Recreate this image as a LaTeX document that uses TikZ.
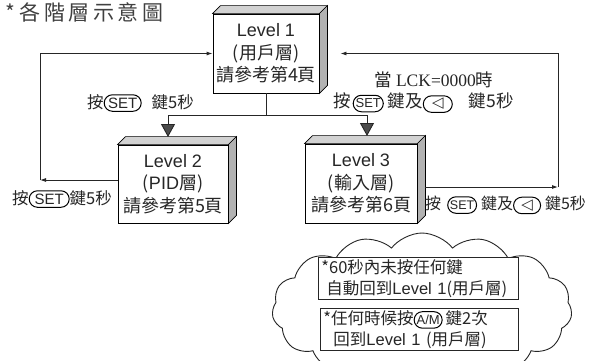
\documentclass[tikz,border=0pt]{standalone}
\usepackage{fontspec}
\setmainfont{Noto Sans CJK TC}
\newfontfamily\lat{Liberation Sans}
\newfontfamily\ser{Liberation Serif}
\newfontfamily\sym{DejaVu Sans}
\usetikzlibrary{shapes.misc,shapes.symbols,arrows.meta,calc}
\tikzset{
  keypill/.style={rounded rectangle, draw=black, line width=1pt, inner xsep=1pt, inner ysep=0.5pt, minimum height=16.5pt, text=black!85},
  levelbox/.style={draw=black, line width=0.9pt, fill=white, align=center, inner sep=0pt, text=black!85,
    font=\fontsize{18}{22.5}\selectfont},
  topface/.style={fill=gray!35, draw=black, line width=0.6pt},
  sideface/.style={fill=gray!60, draw=black, line width=0.6pt},
  conn/.style={draw=black!85, line width=0.9pt},
  arr/.style={-{Latex[length=6pt,width=4pt]}},
  tri/.style={-{Triangle[length=13pt,width=14pt,fill=black!70]}},
  lab/.style={inner sep=0pt, text=black!85, font=\fontsize{16.5}{18}\selectfont},
  cbox/.style={draw=black!85, line width=0.9pt, fill=white, inner xsep=3pt, inner ysep=0pt, text=black!85,
    align=left, font=\fontsize{16.5}{20.5}\selectfont, anchor=north west},
}
\newcommand{\kbd}[3]{\tikz[baseline=(kb.base)]\node[keypill, minimum width=#1, font=#2] (kb) {#3};}
\newcommand{\cube}[1]{%
  \draw[topface] (#1.north west) -- ++(8,-8) -- ($(#1.north east)+(8,-8)$) -- (#1.north east) -- cycle;
  \draw[sideface] (#1.north east) -- ++(8,-8) -- ($(#1.south east)+(8,-8)$) -- (#1.south east) -- cycle;}
\begin{document}
\begin{tikzpicture}[x=1pt,y=-1pt]
\useasboundingbox (0,0) rectangle (596,360);
\clip (0,0) rectangle (596,360);
\fill[white] (0,0) rectangle (596,360);

% title
\node[anchor=west, inner sep=0pt, text=black!75, font=\fontsize{21}{21}\selectfont] (title) at (5,12) {*\ 各\,階\,層\,示\,意\,圖};

% level boxes
\node[levelbox, minimum width=106pt, minimum height=79pt] (L1) at (266,53.5) {{\lat Level 1}\\(用戶層)\\請參考第4頁};
\node[levelbox, minimum width=110pt, minimum height=78pt] (L2) at (173,184) {{\lat Level 2}\\({\lat PID}層)\\請參考第5頁};
\node[levelbox, minimum width=112pt, minimum height=79pt] (L3) at (361,183.5) {{\lat Level 3}\\(輸入層)\\請參考第6頁};
\cube{L1}
\cube{L2}
\cube{L3}

% left loop
\coordinate (cl) at (40,180);
\draw[conn,arr] (L2.west |- cl) -- (cl);
\draw[conn,arr] (cl) |- (L1.west);

% middle split
\coordinate (m) at (266,115);
\coordinate (ml) at (168,115);
\coordinate (mr) at (367,115);
\coordinate (t2) at (168,137);
\coordinate (t3) at (367,136);
\draw[conn] (L1.south) -- (m);
\draw[conn] (ml) -- (mr);
\draw[conn,tri] (ml) -- (t2);
\draw[conn,tri] (mr) -- (t3);

% right loop
\coordinate (cr) at (558,187);
\draw[conn,arr] ($(L3.east)+(8,3.5)$) -- (cr);
\draw[conn,arr] (cr) |- ($(L1.east)+(21,0)$);

% labels
\node[lab, anchor=west] (lb1) at (87,103) {按\kbd{39pt}{\lat\fontsize{15}{15}\selectfont}{SET}\hspace{10pt}鍵5秒};
\node[lab, anchor=west] (lb2) at (12,199) {按\kbd{42pt}{\lat\fontsize{15}{15}\selectfont}{SET}鍵5秒};
\node[lab, anchor=center, font=\fontsize{17.5}{18}\selectfont] (lck) at (434,80) {當 {\ser LCK=0000}時};
\node[lab, anchor=west, font=\fontsize{17.5}{18}\selectfont] (lb3) at (333,103) {按\hspace{2pt}\kbd{29pt}{\lat\fontsize{13}{13}\selectfont}{SET}\hspace{4pt}鍵及\kbd{31pt}{\sym\fontsize{15}{15}\selectfont}{◁}\hspace{16pt}鍵5秒};
\node[lab, anchor=west, font=\fontsize{16}{18}\selectfont] (lb4) at (425,205) {按\hspace{6pt}\kbd{26pt}{\lat\fontsize{12.5}{12.5}\selectfont}{SET}\hspace{4pt}鍵及\kbd{29pt}{\sym\fontsize{15}{15}\selectfont}{◁}\hspace{4pt}鍵5秒};

% cloud
\node[cloud, draw=black!85, line width=0.9pt, fill=white, cloud puffs=15, cloud puff arc=105, aspect=2.2,
  minimum width=300pt, minimum height=152pt] (cloudn) at (422,309) {};
\node[cbox, text width=194pt, minimum height=42pt] (c1) at (318,257) {*60秒內未按任何鍵\\\hspace*{5pt}自動回到{\lat Level 1}(用戶層)};
\node[cbox, text width=192pt, minimum height=42pt] (c2) at (320,308) {*任何時候按\kbd{30pt}{\lat\fontsize{13}{13}\selectfont}{A/M}\hspace{3pt}鍵2次\\\hspace*{10pt}回到{\lat Level 1} (用戶層)};
\end{tikzpicture}
\end{document}
